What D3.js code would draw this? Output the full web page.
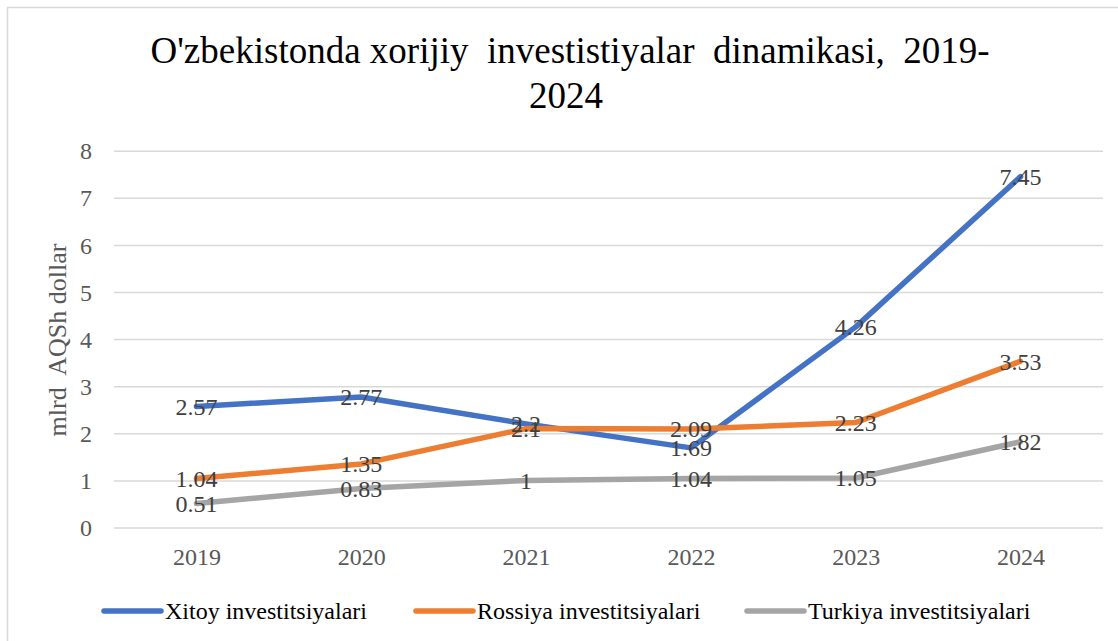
<!DOCTYPE html>
<html><head><meta charset="utf-8">
<script src="https://cdn.jsdelivr.net/npm/d3@7"></script>
<style>
html,body{margin:0;padding:0;background:#fff;}
svg{display:block;}
text{font-family:"Liberation Serif","Times New Roman",serif;white-space:pre;}
</style></head>
<body>
<svg id="chart" width="1118" height="641"></svg>
<script>
const years = ["2019","2020","2021","2022","2023","2024"];
const xitoy = [2.57, 2.77, 2.2, 1.69, 4.26, 7.45];
const rossiya = [1.04, 1.35, 2.1, 2.09, 2.23, 3.53];
const turkiya = [0.51, 0.83, 1, 1.04, 1.05, 1.82];
const seriesNames = ["Xitoy investitsiyalari","Rossiya investitsiyalari","Turkiya investitsiyalari"];
const seriesColors = ["#4472C4","#ED7D31","#A5A5A5"];
const yTicks = [0,1,2,3,4,5,6,7,8];
const titleLine1 = "O'zbekistonda xorijiy  investistiyalar  dinamikasi,  2019-";
const titleLine2 = "2024";
const yTitle = "mlrd  AQSh dollar";

const series = [xitoy, rossiya, turkiya].map((v,i)=>({name:seriesNames[i], color:seriesColors[i], values:v}));

const svg = d3.select("#chart");
svg.append("rect").attr("x",7.5).attr("y",7.5).attr("width",1130).attr("height",660)
  .attr("fill","#fff").attr("stroke","#d9d9d9").attr("stroke-width",1.5);

const x = d3.scalePoint().domain(years).range([114,1103]).padding(0.5);
const y = d3.scaleLinear().domain([0,8]).range([527.5,150.7]);

// gridlines
const grid = svg.append("g").attr("transform","translate(0,0)")
  .call(d3.axisLeft(y).tickValues(yTicks).tickSize(-(1103-114)).tickFormat(""))
  .attr("transform","translate(114,0)");
grid.select(".domain").remove();
grid.selectAll("line").attr("stroke","#d9d9d9").attr("stroke-width",1.5);

// y tick labels
const yAxis = svg.append("g").attr("transform","translate(92,0)")
  .call(d3.axisLeft(y).tickValues(yTicks).tickSize(0).tickPadding(0).tickFormat(d3.format("d")));
yAxis.select(".domain").remove();
yAxis.selectAll("text").attr("font-family","Liberation Serif").attr("font-size",24).attr("fill","#595959").attr("dy","0.34em");

// x tick labels
const xAxis = svg.append("g").attr("transform","translate(0,548)")
  .call(d3.axisBottom(x).tickSize(0).tickPadding(0));
xAxis.select(".domain").remove();
xAxis.selectAll("text").attr("font-family","Liberation Serif").attr("font-size",24).attr("fill","#595959").attr("dy","0.72em");

// y title
svg.append("text").attr("transform","translate(66,340) rotate(-90)")
  .attr("text-anchor","middle").attr("font-size",26).attr("fill","#595959").text(yTitle);

// title
svg.append("text").attr("x",570).attr("y",63).attr("text-anchor","middle")
  .attr("font-size",37).attr("fill","#000").text(titleLine1);
svg.append("text").attr("x",566).attr("y",108).attr("text-anchor","middle")
  .attr("font-size",37).attr("fill","#000").text(titleLine2);

// lines
const line = d3.line().x((d,i)=>x(years[i])).y(d=>y(d));
series.forEach(s=>{
  svg.append("path").datum(s.values).attr("d",line).attr("fill","none")
    .attr("stroke",s.color).attr("stroke-width",5.5)
    .attr("stroke-linejoin","round").attr("stroke-linecap","round");
});

// data labels
series.forEach(s=>{
  svg.append("g").selectAll("text").data(s.values).join("text")
    .attr("x",(d,i)=>x(years[i])).attr("y",d=>y(d)).attr("dy","0.35em")
    .attr("text-anchor","middle").attr("font-size",24).attr("fill","#404040")
    .text(d=>String(d));
});

// legend
const legendX = [104, 416, 747];
const leg = svg.append("g");
series.forEach((s,i)=>{
  leg.append("line").attr("x1",legendX[i]).attr("x2",legendX[i]+57).attr("y1",611).attr("y2",611)
    .attr("stroke",s.color).attr("stroke-width",5.5).attr("stroke-linecap","round");
  leg.append("text").attr("x",legendX[i]+61).attr("y",611).attr("dy","0.34em")
    .attr("font-size",24).attr("fill","#000").text(s.name);
});
</script>
</body></html>
